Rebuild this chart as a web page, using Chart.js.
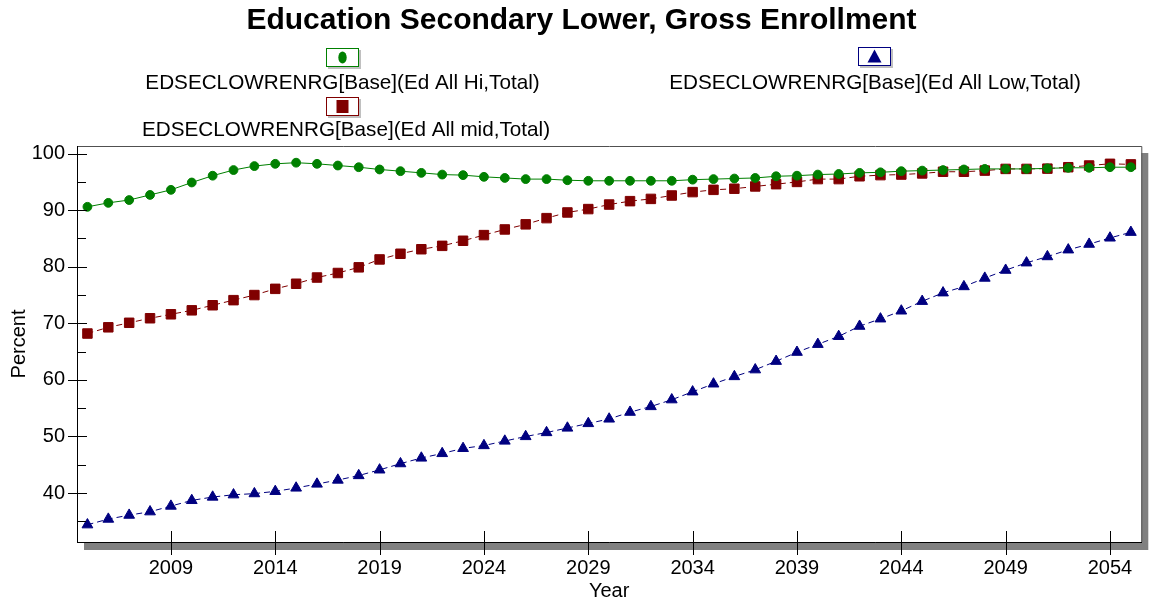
<!DOCTYPE html>
<html>
<head>
<meta charset="utf-8">
<script src="https://cdn.jsdelivr.net/npm/chart.js@4"></script>
<style>
  body { margin: 0; background: white; }
  #wrap { width: 1149px; height: 605px; }
</style>
</head>
<body>
<div id="wrap"><canvas id="enrollChart"></canvas></div>
<script>
const years = [2005, 2006, 2007, 2008, 2009, 2010, 2011, 2012, 2013, 2014,
    2015, 2016, 2017, 2018, 2019, 2020, 2021, 2022, 2023, 2024,
    2025, 2026, 2027, 2028, 2029, 2030, 2031, 2032, 2033, 2034,
    2035, 2036, 2037, 2038, 2039, 2040, 2041, 2042, 2043, 2044,
    2045, 2046, 2047, 2048, 2049, 2050, 2051, 2052, 2053, 2054, 2055];

const hiTotal = [90.6, 91.3, 91.8, 92.7, 93.6, 94.9, 96.1, 97.1, 97.8, 98.2,
    98.4, 98.2, 97.9, 97.6, 97.2, 96.9, 96.6, 96.3, 96.2, 95.9,
    95.7, 95.5, 95.5, 95.3, 95.2, 95.2, 95.2, 95.2, 95.2, 95.4,
    95.5, 95.6, 95.7, 96.0, 96.1, 96.3, 96.4, 96.6, 96.7, 96.9,
    97.0, 97.1, 97.2, 97.3, 97.3, 97.3, 97.4, 97.5, 97.5, 97.6, 97.6];

const midTotal = [68.2, 69.3, 70.1, 70.9, 71.6, 72.3, 73.2, 74.1, 75.0, 76.1,
    77.0, 78.1, 78.9, 79.9, 81.3, 82.3, 83.1, 83.7, 84.6, 85.6,
    86.6, 87.5, 88.6, 89.6, 90.2, 91.0, 91.6, 92.0, 92.6, 93.2,
    93.6, 93.8, 94.2, 94.6, 95.0, 95.5, 95.5, 96.0, 96.2, 96.3,
    96.5, 96.8, 96.8, 97.0, 97.3, 97.3, 97.35, 97.6, 97.9, 98.2, 98.1];

const lowTotal = [34.4, 35.4, 36.1, 36.7, 37.7, 38.7, 39.3, 39.7, 39.9, 40.3,
    40.9, 41.6, 42.3, 43.1, 44.1, 45.2, 46.2, 47.0, 47.9, 48.4,
    49.2, 50.0, 50.7, 51.5, 52.3, 53.1, 54.3, 55.3, 56.5, 57.9,
    59.3, 60.6, 61.8, 63.3, 64.9, 66.3, 67.7, 69.5, 70.8, 72.2,
    73.9, 75.4, 76.5, 78.0, 79.4, 80.7, 81.8, 83.0, 84.0, 85.1, 86.1];

const seriesNames = [
    'EDSECLOWRENRG[Base](Ed All Hi,Total)',
    'EDSECLOWRENRG[Base](Ed All mid,Total)',
    'EDSECLOWRENRG[Base](Ed All Low,Total)'
];

const chartTitle = 'Education Secondary Lower, Gross Enrollment';

const xTicks = [2009, 2014, 2019, 2024, 2029, 2034, 2039, 2044, 2049, 2054];
const yTicks = [40, 50, 60, 70, 80, 90, 100];
const yMinorTicks = [35, 45, 55, 65, 75, 85, 95];

const fontFamily = '"Liberation Sans", Arial, sans-serif';

function toPoints(values) {
    return years.map((yr, i) => ({ x: yr, y: values[i] }));
}

// shadowed plot frame + tick marks like the original
const framePlugin = {
    id: 'frame',
    beforeDraw(chart) {
        const { ctx, chartArea: a } = chart;
        ctx.save();
        ctx.fillStyle = '#808080';
        ctx.fillRect(a.left + 7, a.top + 7, a.right - a.left, a.bottom - a.top + 1);
        ctx.fillStyle = '#ffffff';
        ctx.fillRect(a.left, a.top, a.right - a.left, a.bottom - a.top);
        ctx.strokeStyle = '#505050';
        ctx.lineWidth = 1;
        ctx.beginPath();
        ctx.moveTo(a.left, a.top + 0.5);
        ctx.lineTo(a.right + 0.5, a.top + 0.5);
        ctx.lineTo(a.right + 0.5, a.bottom);
        ctx.stroke();
        ctx.restore();
    },
    afterDraw(chart) {
        const { ctx, chartArea: a, scales } = chart;
        ctx.save();
        ctx.strokeStyle = '#000000';
        ctx.lineWidth = 1;
        ctx.beginPath();
        xTicks.forEach(v => {
            const px = Math.round(scales.x.getPixelForValue(v)) + 0.5;
            ctx.moveTo(px, a.bottom - 11);
            ctx.lineTo(px, a.bottom + 13);
        });
        yTicks.forEach(v => {
            const py = Math.round(scales.y.getPixelForValue(v)) + 0.5;
            ctx.moveTo(a.left - 9, py);
            ctx.lineTo(a.left + 10, py);
        });
        yMinorTicks.forEach(v => {
            const py = Math.round(scales.y.getPixelForValue(v)) + 0.5;
            ctx.moveTo(a.left, py);
            ctx.lineTo(a.left + 9, py);
        });
        ctx.stroke();
        ctx.restore();
    }
};

// title + legend: marker box above each centred name
const legendSlots = [
    { box: [326, 48], text: [342.5, 89] },
    { box: [326, 97], text: [346, 136] },
    { box: [858, 47], text: [875, 89] }
];

const headerPlugin = {
    id: 'header',
    afterDraw(chart) {
        const ctx = chart.ctx;
        ctx.save();
        ctx.fillStyle = '#000000';
        ctx.font = 'bold 30px ' + fontFamily;
        ctx.textAlign = 'center';
        ctx.textBaseline = 'middle';
        ctx.fillText(chartTitle, 581.5, 21);

        chart.data.datasets.forEach((ds, i) => {
            const slot = legendSlots[i];
            const [bx, by] = slot.box;
            const w = 33, h = 19;
            ctx.fillStyle = '#c0c0c0';
            ctx.fillRect(bx + 2, by + 2, w, h);
            ctx.fillStyle = '#ffffff';
            ctx.fillRect(bx, by, w, h);
            ctx.strokeStyle = ds.borderColor;
            ctx.lineWidth = 1;
            ctx.strokeRect(bx + 0.5, by + 0.5, w - 1, h - 1);

            const cx = bx + w / 2, cy = by + h / 2;
            ctx.fillStyle = ds.pointBackgroundColor;
            ctx.beginPath();
            if (ds.pointStyle === 'circle') {
                ctx.ellipse(cx, cy, 4.2, 6, 0, 0, Math.PI * 2);
            } else if (ds.pointStyle === 'rect') {
                ctx.rect(cx - 6, cy - 6.5, 12, 13);
            } else {
                ctx.moveTo(cx, cy - 7);
                ctx.lineTo(cx + 7, cy + 6);
                ctx.lineTo(cx - 7, cy + 6);
                ctx.closePath();
            }
            ctx.fill();

            ctx.fillStyle = '#000000';
            ctx.font = '20.7px ' + fontFamily;
            ctx.textAlign = 'center';
            ctx.textBaseline = 'alphabetic';
            ctx.fillText(ds.label, slot.text[0], slot.text[1]);
        });
        ctx.restore();
    }
};

const enrollCtx = document.getElementById('enrollChart').getContext('2d');
const enrollChart = new Chart(enrollCtx, {
    type: 'line',
    data: {
        datasets: [{
            label: seriesNames[0],
            data: toPoints(hiTotal),
            borderColor: '#008000',
            backgroundColor: '#008000',
            pointBackgroundColor: '#008000',
            pointBorderColor: '#008000',
            pointStyle: 'circle',
            pointRadius: 4.4,
            borderWidth: 1
        },
        {
            label: seriesNames[1],
            data: toPoints(midTotal),
            borderColor: '#800000',
            backgroundColor: '#800000',
            pointBackgroundColor: '#800000',
            pointBorderColor: '#800000',
            pointStyle: 'rect',
            pointRadius: 6.7,
            borderWidth: 1,
            borderDash: [6, 4]
        },
        {
            label: seriesNames[2],
            data: toPoints(lowTotal),
            borderColor: '#000080',
            backgroundColor: '#000080',
            pointBackgroundColor: '#000080',
            pointBorderColor: '#000080',
            pointStyle: 'triangle',
            pointRadius: 6.2,
            borderWidth: 1,
            borderDash: [6, 4]
        }]
    },
    options: {
        responsive: true,
        maintainAspectRatio: false,
        animation: false,
        layout: {
            padding: { left: 0, right: 6, top: 146, bottom: 0 }
        },
        elements: {
            line: { tension: 0 },
            point: { borderWidth: 1, hoverRadius: 6 }
        },
        scales: {
            x: {
                type: 'linear',
                min: 2004.5,
                max: 2055.5,
                afterBuildTicks: scale => {
                    scale.ticks = xTicks.map(v => ({ value: v }));
                },
                afterFit: scale => {
                    scale.height = 63;
                },
                ticks: {
                    color: '#000000',
                    font: { size: 20, family: fontFamily },
                    padding: 14,
                    maxRotation: 0,
                    autoSkip: false,
                    callback: value => String(value)
                },
                grid: { display: false, drawTicks: false },
                border: { display: true, color: '#000000', width: 1 },
                title: {
                    display: true,
                    text: 'Year',
                    color: '#000000',
                    font: { size: 20, family: fontFamily },
                    padding: { top: 0, bottom: 2 }
                }
            },
            y: {
                type: 'linear',
                min: 31.35,
                max: 101.35,
                afterBuildTicks: scale => {
                    scale.ticks = yTicks.map(v => ({ value: v }));
                },
                afterFit: scale => {
                    scale.width = 77;
                },
                ticks: {
                    color: '#000000',
                    font: { size: 20, family: fontFamily },
                    padding: 12,
                    callback: value => String(value)
                },
                grid: { display: false, drawTicks: false },
                border: { display: true, color: '#000000', width: 1 },
                title: {
                    display: true,
                    text: 'Percent',
                    color: '#000000',
                    font: { size: 20, family: fontFamily },
                    padding: { top: 7, bottom: 0 }
                }
            }
        },
        plugins: {
            title: { display: false },
            legend: { display: false },
            tooltip: { enabled: false }
        }
    },
    plugins: [framePlugin, headerPlugin]
});
</script>
</body>
</html>
